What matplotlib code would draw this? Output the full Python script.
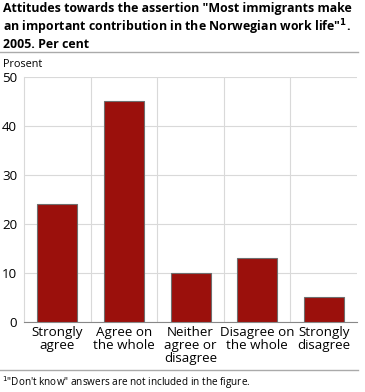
import numpy as np
import matplotlib.pyplot as plt
from matplotlib.lines import Line2D

plt.rcParams['font.family'] = ['Open Sans', 'DejaVu Sans']

categories = ['Strongly\nagree', 'Agree on\nthe whole', 'Neither\nagree or\ndisagree',
              'Disagree on\nthe whole', 'Strongly\ndisagree']
values = [24, 45, 10, 13, 5]

fig = plt.figure(figsize=(3.65, 3.92), dpi=100)
ax = fig.add_axes([0.066, 0.179, 0.912, 0.625])

x = np.arange(len(categories))
ax.bar(x, values, width=0.6, color='#9b100c', edgecolor='#6e6e6e', linewidth=0.8, zorder=3)

ax.set_xlim(-0.5, len(categories) - 0.5)
ax.set_ylim(0, 50)
ax.set_yticks(range(0, 51, 10))
ax.set_xticks(x)
ax.set_xticklabels(categories, fontsize=9.6, linespacing=1.0)
ax.tick_params(axis='x', length=0, pad=3)
ax.tick_params(axis='y', length=0, labelsize=9.6, pad=5)

# grid lines
ax.yaxis.grid(True, color='#d9d9d9', linewidth=0.8, zorder=0)
for b in np.arange(0.5, len(categories) - 0.5, 1):
    ax.axvline(b, color='#d9d9d9', linewidth=0.8, zorder=0)
for s in ['top', 'right']:
    ax.spines[s].set_visible(False)
ax.spines['left'].set_color('#d9d9d9')
ax.spines['bottom'].set_color('#888888')

fig.text(0.008, 0.995, 'Attitudes towards the assertion "Most immigrants make\n'
         'an important contribution in the Norwegian work life"$^{\\mathbf{1}}$.\n'
         '2005. Per cent',
         fontsize=8.9, fontweight='bold', va='top', ha='left', linespacing=1.15)
fig.text(0.008, 0.835, 'Prosent', fontsize=7.8, va='center', ha='left')
fig.add_artist(Line2D([0.0, 0.98], [0.868, 0.868], color='#aaaaaa', linewidth=1))
fig.add_artist(Line2D([0.0, 0.98], [0.057, 0.057], color='#aaaaaa', linewidth=1))
fig.text(0.005, 0.025, '$^1$"Don\'t know" answers are not included in the figure.',
         fontsize=7.2, va='center', ha='left')

fig.savefig('out.png', dpi=100)
